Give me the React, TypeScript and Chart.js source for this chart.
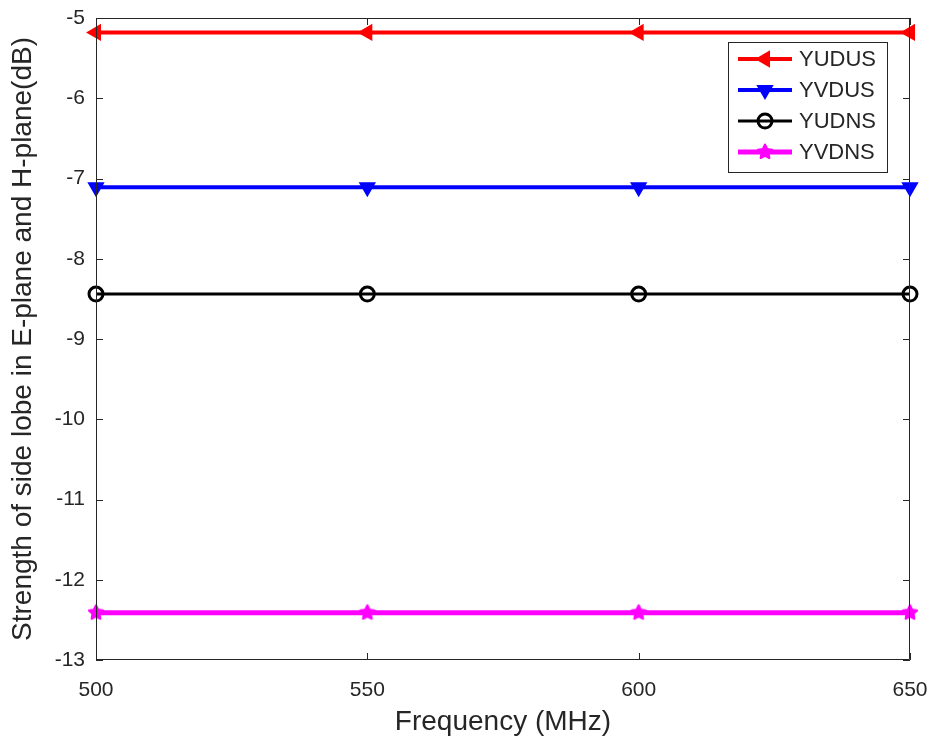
import React, { useEffect, useRef } from "react";
import { Chart, registerables } from "chart.js";
import { drawPoint } from "chart.js/helpers";

Chart.register(...registerables);

const frequencies = [500, 550, 600, 650];
const yudus = [-5.18, -5.18, -5.18, -5.18];
const yvdus = [-7.11, -7.11, -7.11, -7.11];
const yudns = [-8.44, -8.44, -8.44, -8.44];
const yvdns = [-12.41, -12.41, -12.41, -12.41];
const seriesNames = ["YUDUS", "YVDUS", "YUDNS", "YVDNS"];
const xTicks = [500, 550, 600, 650];
const yTicks = [-13, -12, -11, -10, -9, -8, -7, -6, -5];

const TEXT = "#262626";
const FONT = "'Liberation Sans', Arial, Helvetica, sans-serif";

function makeStar(color: string, size: number) {
  const c = document.createElement("canvas");
  c.width = size;
  c.height = size;
  const g = c.getContext("2d")!;
  const cx = size / 2;
  const cy = size / 2;
  const R = size / 2 - 1.5;
  const r = R * 0.5;
  g.beginPath();
  for (let i = 0; i < 10; i++) {
    const a = -Math.PI / 2 + (i * Math.PI) / 5;
    const rr = i % 2 === 0 ? R : r;
    const x = cx + rr * Math.cos(a);
    const y = cy + rr * Math.sin(a);
    if (i === 0) g.moveTo(x, y);
    else g.lineTo(x, y);
  }
  g.closePath();
  g.fillStyle = color;
  g.fill();
  g.lineWidth = 2;
  g.strokeStyle = color;
  g.lineJoin = "round";
  g.stroke();
  return c;
}

const styles: any[] = [
  { color: "#ff0000", pointStyle: "triangle", rotation: 270, width: 4, fill: "#ff0000" },
  { color: "#0000ff", pointStyle: "triangle", rotation: 180, width: 4, fill: "#0000ff" },
  { color: "#000000", pointStyle: "circle", rotation: 0, width: 3, fill: "rgba(0,0,0,0)" },
  { color: "#ff00ff", pointStyle: "star", rotation: 0, width: 5, fill: "#ff00ff" },
];

const boxPlugin = {
  id: "matlabBox",
  afterDraw(chart: any) {
    const { ctx, chartArea } = chart;
    const { left, right, top, bottom } = chartArea;
    const xs = chart.scales.x;
    const ys = chart.scales.y;
    ctx.save();
    ctx.strokeStyle = TEXT;
    ctx.lineWidth = 1;
    ctx.beginPath();
    ctx.rect(left + 0.5, top + 0.5, right - left - 1, bottom - top - 1);
    ctx.stroke();
    const tl = 7;
    ctx.beginPath();
    xTicks.forEach((v) => {
      const px = Math.round(xs.getPixelForValue(v)) + 0.5;
      ctx.moveTo(px, bottom);
      ctx.lineTo(px, bottom - tl);
      ctx.moveTo(px, top);
      ctx.lineTo(px, top + tl);
    });
    yTicks.forEach((v) => {
      const py = Math.round(ys.getPixelForValue(v)) + 0.5;
      ctx.moveTo(left, py);
      ctx.lineTo(left + tl, py);
      ctx.moveTo(right, py);
      ctx.lineTo(right - tl, py);
    });
    ctx.stroke();

    // legend
    const bx = right - 182;
    const by = top + 24;
    const bw = 159;
    const bh = 130;
    ctx.fillStyle = "#ffffff";
    ctx.fillRect(bx, by, bw, bh);
    ctx.strokeStyle = TEXT;
    ctx.lineWidth = 1;
    ctx.strokeRect(bx + 0.5, by + 0.5, bw, bh);
    ctx.font = `22px ${FONT}`;
    ctx.textBaseline = "middle";
    ctx.textAlign = "left";
    seriesNames.forEach((name, i) => {
      const st = styles[i];
      const cy = by + 17 + i * 31;
      ctx.strokeStyle = st.color;
      ctx.lineWidth = st.width;
      ctx.beginPath();
      ctx.moveTo(bx + 10, cy);
      ctx.lineTo(bx + 64, cy);
      ctx.stroke();
      ctx.fillStyle = st.fill;
      ctx.strokeStyle = st.color;
      ctx.lineWidth = 3;
      drawPoint(ctx, { pointStyle: st.pointStyle, rotation: st.rotation, radius: 7, borderWidth: 3 }, bx + 37, cy);
      ctx.fillStyle = TEXT;
      ctx.fillText(name, bx + 71, cy + 1);
    });
    ctx.restore();
  },
};

export default function App() {
  const ref = useRef<HTMLCanvasElement | null>(null);
  useEffect(() => {
    document.body.style.margin = "0";
    styles[3].pointStyle = makeStar("#ff00ff", 18);
    const canvas = ref.current!;
    const all = [yudus, yvdus, yudns, yvdns];
    const chart = new Chart(canvas, {
      type: "line",
      data: {
        datasets: all.map((vals, i) => ({
          label: seriesNames[i],
          data: frequencies.map((f, j) => ({ x: f, y: vals[j] })),
          borderColor: styles[i].color,
          backgroundColor: styles[i].fill,
          borderWidth: styles[i].width,
          pointStyle: styles[i].pointStyle,
          rotation: styles[i].rotation,
          pointRadius: 7,
          pointBorderWidth: 3,
          pointBorderColor: styles[i].color,
          pointBackgroundColor: styles[i].fill,
          tension: 0,
          clip: false as any,
        })),
      },
      options: {
        responsive: false,
        animation: false,
        layout: { padding: { left: 0, right: 25, top: 18, bottom: 0 } },
        plugins: { legend: { display: false }, tooltip: { enabled: false } },
        scales: {
          x: {
            type: "linear",
            min: 500,
            max: 650,
            afterBuildTicks: (s: any) => {
              s.ticks = xTicks.map((v) => ({ value: v }));
            },
            afterFit: (s: any) => {
              s.height = 85;
              s.paddingLeft = 0;
              s.paddingRight = 0;
            },
            grid: { display: false, drawTicks: false },
            border: { display: false },
            ticks: { color: TEXT, font: { size: 21, family: FONT }, padding: 18, maxRotation: 0 },
            title: {
              display: true,
              text: "Frequency (MHz)",
              color: TEXT,
              font: { size: 28, family: FONT },
              padding: { top: 0, bottom: 6 },
            },
          },
          y: {
            type: "linear",
            min: -13,
            max: -5,
            afterBuildTicks: (s: any) => {
              s.ticks = yTicks.map((v) => ({ value: v }));
            },
            afterFit: (s: any) => {
              s.width = 96;
              s.paddingTop = 0;
              s.paddingBottom = 0;
            },
            grid: { display: false, drawTicks: false },
            border: { display: false },
            ticks: { color: TEXT, font: { size: 21, family: FONT }, padding: 11 },
            title: {
              display: true,
              text: "Strength of side lobe in E-plane and H-plane(dB)",
              color: TEXT,
              font: { size: 28, family: FONT },
              padding: { top: 6, bottom: 0 },
            },
          },
        },
      },
      plugins: [boxPlugin],
    });
    return () => chart.destroy();
  }, []);
  return <canvas ref={ref} width={935} height={745} style={{ display: "block" }} />;
}
